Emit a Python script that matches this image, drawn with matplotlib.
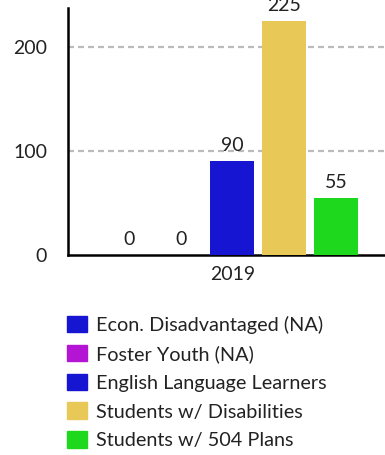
import matplotlib
matplotlib.use('Agg')
import matplotlib.pyplot as plt
import numpy as np

# enrollment counts by student group, 2019
groups = ['Econ. Disadvantaged (NA)', 'Foster Youth (NA)', 'English Language Learners',
          'Students w/ Disabilities', 'Students w/ 504 Plans']
counts = [0, 0, 90, 225, 55]
colors = ['#1616d2', '#b414d4', '#1616d2', '#e8c957', '#1ed81e']
year = '2019'

plt.rcParams['font.family'] = ['Lato', 'DejaVu Sans']

fig = plt.figure(figsize=(3.85, 4.55), dpi=100)
ax = fig.add_axes([68 / 385, 1 - 255 / 455, 1 - 68 / 385, (255 - 8) / 455])

x = np.arange(len(groups))
bars = ax.bar(x, counts, width=0.85, color=colors, label=groups, zorder=3)
ax.bar_label(bars, labels=[str(c) for c in counts], padding=5, fontsize=14,
             color='#222222', clip_on=False)

ax.set_xlim(-1.18, 4.95)
ax.set_ylim(0, 237.5)
ax.set_yticks([0, 100, 200])
ax.set_xticks([2])
ax.set_xticklabels([year])
ax.tick_params(axis='both', length=0, labelsize=14, labelcolor='#222222')
ax.tick_params(axis='y', pad=15)
ax.tick_params(axis='x', pad=8)

# dashed guides at 100 and 200 only
for v in [100, 200]:
    ax.axhline(v, color='#bbbbbb', lw=1.6, dashes=(2.7, 1.8), zorder=1)

for s in ['top', 'right']:
    ax.spines[s].set_visible(False)
for s in ['left', 'bottom']:
    ax.spines[s].set_linewidth(1.8)
    ax.spines[s].set_color('black')

handles = [plt.Rectangle((0, 0), 1, 1, color=c) for c in colors]
fig.legend(handles, groups, loc='upper left', bbox_to_anchor=(67 / 385, 1 - 316 / 455),
           frameon=False, fontsize=14.3, handlelength=1.0, handleheight=0.9,
           handletextpad=0.45, labelspacing=0.54, borderpad=0, borderaxespad=0,
           labelcolor='#222222')

fig.savefig('out.png', dpi=100)
